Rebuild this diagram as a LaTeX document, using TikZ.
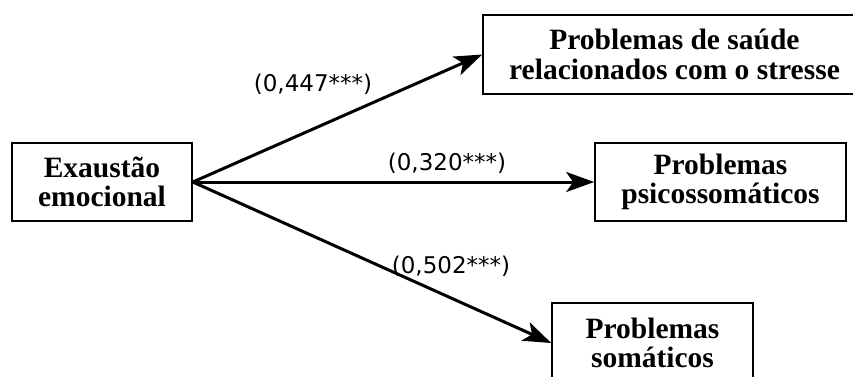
\documentclass[tikz,border=0pt]{standalone}
\usepackage{fontspec}
\setmainfont{Liberation Serif}
\newfontfamily\labfont{DejaVu Sans}
\usetikzlibrary{arrows.meta}
\begin{document}
\begin{tikzpicture}[x=1pt,y=-1pt,
  box/.style={draw, line width=1.6pt, inner sep=0pt, align=center,
    font=\fontsize{29.5}{29.5}\selectfont\bfseries},
  effect/.style={line width=3pt, -{Stealth[length=28pt,width=20pt,inset=7pt]}},
  coef/.style={font=\fontsize{23}{25}\selectfont\labfont, inner sep=0pt}]
\useasboundingbox (0,0) rectangle (853,376);
\clip (0,0) rectangle (853,376);
\node[box, minimum width=180pt, minimum height=78pt] (ee) at (102,182) {Exaustão\\emocional};
\node[box, minimum width=383pt, minimum height=79pt] (ps) at (674.5,54.5) {Problemas de saúde\\relacionados com o stresse};
\node[box, minimum width=251pt, minimum height=78pt] (pp) at (720.5,182) {Problemas\\psicossomáticos};
\node[box, minimum width=201pt, minimum height=80pt] (pm) at (652.5,343) {Problemas\\somáticos};
\draw[effect] (ee.east) -- (ps.west);
\draw[effect] (ee.east) -- (pp.west);
\draw[effect] (ee.east) -- (pm.west);
\node[coef] (c1) at (313,84) {(0,447***)};
\node[coef] (c2) at (447,163) {(0,320***)};
\node[coef] (c3) at (451,266) {(0,502***)};
\end{tikzpicture}
\end{document}
